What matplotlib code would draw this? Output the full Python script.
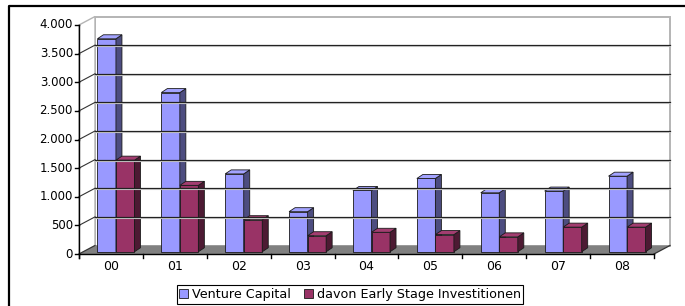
import matplotlib
matplotlib.use('Agg')
import numpy as np
from matplotlib import pyplot as plt
from matplotlib.patches import Polygon, Patch
from matplotlib.lines import Line2D

plt.rcParams['font.family'] = 'DejaVu Sans'

years = ['00', '01', '02', '03', '04', '05', '06', '07', '08']
venture_capital = [3720, 2780, 1360, 700, 1070, 1280, 1030, 1060, 1320]
early_stage = [1600, 1160, 560, 280, 340, 300, 260, 430, 430]
series_names = ['Venture Capital', 'davon Early Stage Investitionen']
y_ticks = [0, 500, 1000, 1500, 2000, 2500, 3000, 3500, 4000]

W, H = 685, 306
# pixel scale of the front plane
PX_CAT = 575 / 9
PX_VAL = 229 / 4000


def px_x(p):
    return p / PX_CAT


def px_y(p):
    return p / PX_VAL


# depth of walls and of the bars (Excel 3D look)
WALL_DX, WALL_DY = px_x(16), px_y(8.5)
BAR_DX, BAR_DY = px_x(6), px_y(4)
OFF_DX, OFF_DY = (WALL_DX - BAR_DX) / 2, (WALL_DY - BAR_DY) / 2
BAR_W = 0.29

fig = plt.figure(figsize=(W / 100, H / 100), dpi=100)
ax = fig.add_axes([0, 0, 1, 1])
ax.set_xlim(-79 / PX_CAT, (W - 79) / PX_CAT)
ax.set_ylim(-(H - 254) / PX_VAL, 254 / PX_VAL)
ax.axis('off')

n = len(years)
top = y_ticks[-1]
wall_edge = '#b4b4b4'

# back wall and left wall
ax.add_patch(Polygon([(WALL_DX, WALL_DY), (n + WALL_DX, WALL_DY), (n + WALL_DX, top + WALL_DY),
                      (WALL_DX, top + WALL_DY)], closed=True, facecolor='white', edgecolor=wall_edge, lw=1.4))
ax.add_patch(Polygon([(0, 0), (WALL_DX, WALL_DY), (WALL_DX, top + WALL_DY), (0, top)], closed=True,
                     facecolor='white', edgecolor=wall_edge, lw=1.0))

# gridlines
for v in y_ticks[1:-1]:
    ax.plot([WALL_DX, n + WALL_DX], [v + WALL_DY - px_y(1), v + WALL_DY - px_y(1)], color='#d0d0d0', lw=0.8)
    ax.plot([WALL_DX, n + WALL_DX], [v + WALL_DY, v + WALL_DY], color='#222222', lw=0.9)
    ax.plot([0, WALL_DX], [v, v + WALL_DY], color='#333333', lw=0.8)

# floor
ax.add_patch(Polygon([(0, 0), (n, 0), (n + WALL_DX, WALL_DY), (WALL_DX, WALL_DY)], closed=True,
                     facecolor='#808080', edgecolor='none'))
ax.plot([0, WALL_DX], [0, WALL_DY], color='#333333', lw=0.8)
ax.plot([n, n + WALL_DX], [0, WALL_DY], color='#333333', lw=0.9)


def draw_bar(x, v, front, side, topc):
    x0 = x + OFF_DX
    y0 = OFF_DY
    y1 = v + OFF_DY
    kw = dict(closed=True, edgecolor='#1a1a1a', lw=0.6)
    ax.add_patch(Polygon([(x0, y0), (x0 + BAR_W, y0), (x0 + BAR_W, y1), (x0, y1)], facecolor=front, **kw))
    ax.add_patch(Polygon([(x0 + BAR_W, y0), (x0 + BAR_W + BAR_DX, y0 + BAR_DY),
                          (x0 + BAR_W + BAR_DX, y1 + BAR_DY), (x0 + BAR_W, y1)], facecolor=side, **kw))
    ax.add_patch(Polygon([(x0, y1), (x0 + BAR_W, y1), (x0 + BAR_W + BAR_DX, y1 + BAR_DY),
                          (x0 + BAR_DX, y1 + BAR_DY)], facecolor=topc, **kw))


vc_colors = ('#9999ff', '#4d4d80', '#a3a3ff')
es_colors = ('#993366', '#4d1a33', '#a33d70')
for i in range(n):
    x = i + 0.5 - BAR_W
    draw_bar(x, venture_capital[i], *vc_colors)
    draw_bar(x + BAR_W, early_stage[i], *es_colors)

# axes lines
tick = px_x(4)
ax.plot([0, 0], [-px_y(4), top], color='black', lw=1.0)
ax.plot([0, n], [0, 0], color='black', lw=1.0)
for v in y_ticks:
    ax.plot([-tick, 0], [v, v], color='black', lw=1.0)
    ax.text(-px_x(6), v, f'{v:,}'.replace(',', '.'), ha='right', va='center', fontsize=8.5)
for i in range(n + 1):
    ax.plot([i, i], [0, -px_y(4)], color='black', lw=1.0)
for i, lab in enumerate(years):
    ax.text(i + 0.5, -px_y(13), lab, ha='center', va='center', fontsize=9)

# outer frame (cropped on right and bottom)
fig.add_artist(Line2D([9 / W, 9 / W, 1], [0, 1 - 6 / H, 1 - 6 / H], transform=fig.transFigure,
                      color='black', lw=1.6))

handles = [Patch(facecolor=vc_colors[0], edgecolor='#1a1a1a', lw=0.6),
           Patch(facecolor=es_colors[0], edgecolor='#1a1a1a', lw=0.6)]
leg = fig.legend(handles, series_names, loc='center', bbox_to_anchor=(350 / W, 1 - 294.5 / H), ncol=2,
                 fontsize=9.2, frameon=True, fancybox=False, edgecolor='black', framealpha=1,
                 borderpad=0.2, handlelength=0.7, handleheight=0.7, handletextpad=0.3,
                 columnspacing=1.0, borderaxespad=0)
leg.get_frame().set_linewidth(0.8)

fig.savefig('out.png', dpi=100)
